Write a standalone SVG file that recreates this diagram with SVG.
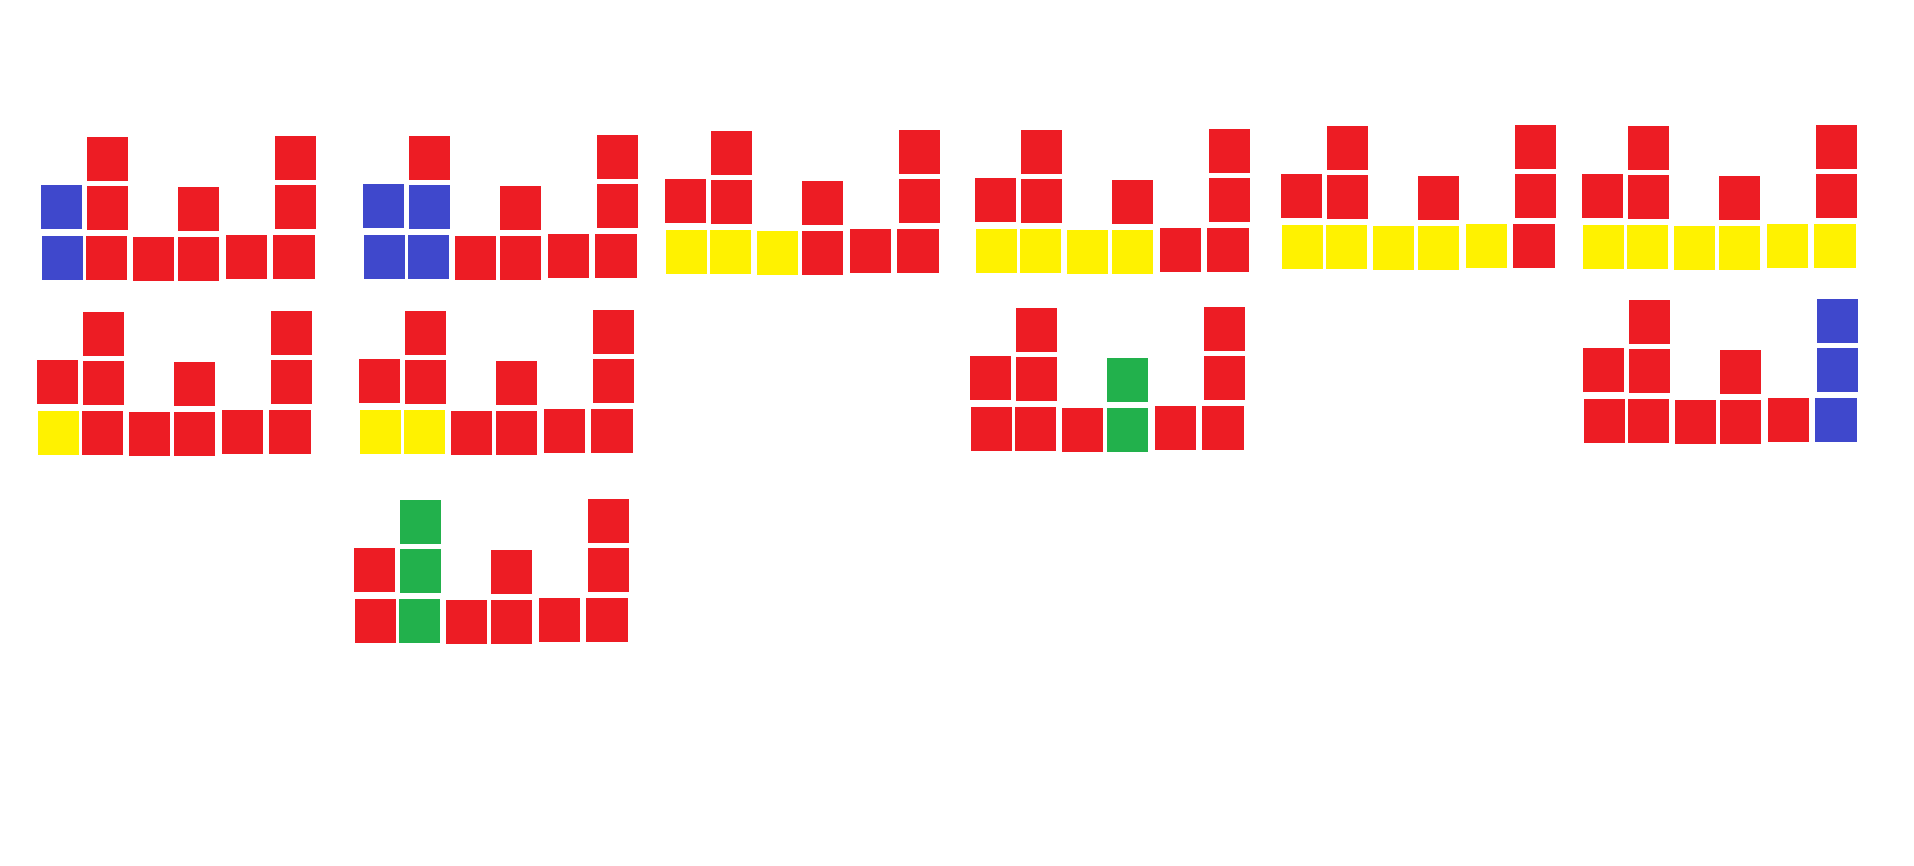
<svg xmlns="http://www.w3.org/2000/svg" width="1914" height="866" viewBox="0 0 1914 866">
<style>
rect{stroke:none}
.r{fill:#ED1C24}.b{fill:#3F48CC}.y{fill:#FFF200}.g{fill:#22B14C}
</style>
<rect x="0" y="0" width="1914" height="866" fill="#FFFFFF"/>
<g id="node-1" transform="translate(0,0)">
<rect class="b" x="41" y="185" width="41" height="44"/><rect class="b" x="42" y="236" width="41" height="44"/>
<rect class="r" x="87" y="137" width="41" height="44"/><rect class="r" x="87" y="186" width="41" height="44"/><rect class="r" x="86" y="236" width="41" height="44"/>
<rect class="r" x="133" y="237" width="41" height="44"/>
<rect class="r" x="178" y="187" width="41" height="44"/><rect class="r" x="178" y="237" width="41" height="44"/>
<rect class="r" x="226" y="235" width="41" height="44"/>
<rect class="r" x="275" y="136" width="41" height="44"/><rect class="r" x="275" y="185" width="41" height="44"/><rect class="r" x="273" y="235" width="42" height="44"/>
</g>
<g id="node-2" transform="translate(322,-1)">
<rect class="b" x="41" y="185" width="41" height="44"/><rect class="b" x="42" y="236" width="41" height="44"/>
<rect class="r" x="87" y="137" width="41" height="44"/><rect class="b" x="87" y="186" width="41" height="44"/><rect class="b" x="86" y="236" width="41" height="44"/>
<rect class="r" x="133" y="237" width="41" height="44"/>
<rect class="r" x="178" y="187" width="41" height="44"/><rect class="r" x="178" y="237" width="41" height="44"/>
<rect class="r" x="226" y="235" width="41" height="44"/>
<rect class="r" x="275" y="136" width="41" height="44"/><rect class="r" x="275" y="185" width="41" height="44"/><rect class="r" x="273" y="235" width="42" height="44"/>
</g>
<g id="node-3" transform="translate(624,-6)">
<rect class="r" x="41" y="185" width="41" height="44"/><rect class="y" x="42" y="236" width="41" height="44"/>
<rect class="r" x="87" y="137" width="41" height="44"/><rect class="r" x="87" y="186" width="41" height="44"/><rect class="y" x="86" y="236" width="41" height="44"/>
<rect class="y" x="133" y="237" width="41" height="44"/>
<rect class="r" x="178" y="187" width="41" height="44"/><rect class="r" x="178" y="237" width="41" height="44"/>
<rect class="r" x="226" y="235" width="41" height="44"/>
<rect class="r" x="275" y="136" width="41" height="44"/><rect class="r" x="275" y="185" width="41" height="44"/><rect class="r" x="273" y="235" width="42" height="44"/>
</g>
<g id="node-4" transform="translate(934,-7)">
<rect class="r" x="41" y="185" width="41" height="44"/><rect class="y" x="42" y="236" width="41" height="44"/>
<rect class="r" x="87" y="137" width="41" height="44"/><rect class="r" x="87" y="186" width="41" height="44"/><rect class="y" x="86" y="236" width="41" height="44"/>
<rect class="y" x="133" y="237" width="41" height="44"/>
<rect class="r" x="178" y="187" width="41" height="44"/><rect class="y" x="178" y="237" width="41" height="44"/>
<rect class="r" x="226" y="235" width="41" height="44"/>
<rect class="r" x="275" y="136" width="41" height="44"/><rect class="r" x="275" y="185" width="41" height="44"/><rect class="r" x="273" y="235" width="42" height="44"/>
</g>
<g id="node-5" transform="translate(1240,-11)">
<rect class="r" x="41" y="185" width="41" height="44"/><rect class="y" x="42" y="236" width="41" height="44"/>
<rect class="r" x="87" y="137" width="41" height="44"/><rect class="r" x="87" y="186" width="41" height="44"/><rect class="y" x="86" y="236" width="41" height="44"/>
<rect class="y" x="133" y="237" width="41" height="44"/>
<rect class="r" x="178" y="187" width="41" height="44"/><rect class="y" x="178" y="237" width="41" height="44"/>
<rect class="y" x="226" y="235" width="41" height="44"/>
<rect class="r" x="275" y="136" width="41" height="44"/><rect class="r" x="275" y="185" width="41" height="44"/><rect class="r" x="273" y="235" width="42" height="44"/>
</g>
<g id="node-6" transform="translate(1541,-11)">
<rect class="r" x="41" y="185" width="41" height="44"/><rect class="y" x="42" y="236" width="41" height="44"/>
<rect class="r" x="87" y="137" width="41" height="44"/><rect class="r" x="87" y="186" width="41" height="44"/><rect class="y" x="86" y="236" width="41" height="44"/>
<rect class="y" x="133" y="237" width="41" height="44"/>
<rect class="r" x="178" y="187" width="41" height="44"/><rect class="y" x="178" y="237" width="41" height="44"/>
<rect class="y" x="226" y="235" width="41" height="44"/>
<rect class="r" x="275" y="136" width="41" height="44"/><rect class="r" x="275" y="185" width="41" height="44"/><rect class="y" x="273" y="235" width="42" height="44"/>
</g>
<g id="node-7" transform="translate(-4,175)">
<rect class="r" x="41" y="185" width="41" height="44"/><rect class="y" x="42" y="236" width="41" height="44"/>
<rect class="r" x="87" y="137" width="41" height="44"/><rect class="r" x="87" y="186" width="41" height="44"/><rect class="r" x="86" y="236" width="41" height="44"/>
<rect class="r" x="133" y="237" width="41" height="44"/>
<rect class="r" x="178" y="187" width="41" height="44"/><rect class="r" x="178" y="237" width="41" height="44"/>
<rect class="r" x="226" y="235" width="41" height="44"/>
<rect class="r" x="275" y="136" width="41" height="44"/><rect class="r" x="275" y="185" width="41" height="44"/><rect class="r" x="273" y="235" width="42" height="44"/>
</g>
<g id="node-8" transform="translate(318,174)">
<rect class="r" x="41" y="185" width="41" height="44"/><rect class="y" x="42" y="236" width="41" height="44"/>
<rect class="r" x="87" y="137" width="41" height="44"/><rect class="r" x="87" y="186" width="41" height="44"/><rect class="y" x="86" y="236" width="41" height="44"/>
<rect class="r" x="133" y="237" width="41" height="44"/>
<rect class="r" x="178" y="187" width="41" height="44"/><rect class="r" x="178" y="237" width="41" height="44"/>
<rect class="r" x="226" y="235" width="41" height="44"/>
<rect class="r" x="275" y="136" width="41" height="44"/><rect class="r" x="275" y="185" width="41" height="44"/><rect class="r" x="273" y="235" width="42" height="44"/>
</g>
<g id="node-9" transform="translate(929,171)">
<rect class="r" x="41" y="185" width="41" height="44"/><rect class="r" x="42" y="236" width="41" height="44"/>
<rect class="r" x="87" y="137" width="41" height="44"/><rect class="r" x="87" y="186" width="41" height="44"/><rect class="r" x="86" y="236" width="41" height="44"/>
<rect class="r" x="133" y="237" width="41" height="44"/>
<rect class="g" x="178" y="187" width="41" height="44"/><rect class="g" x="178" y="237" width="41" height="44"/>
<rect class="r" x="226" y="235" width="41" height="44"/>
<rect class="r" x="275" y="136" width="41" height="44"/><rect class="r" x="275" y="185" width="41" height="44"/><rect class="r" x="273" y="235" width="42" height="44"/>
</g>
<g id="node-10" transform="translate(1542,163)">
<rect class="r" x="41" y="185" width="41" height="44"/><rect class="r" x="42" y="236" width="41" height="44"/>
<rect class="r" x="87" y="137" width="41" height="44"/><rect class="r" x="87" y="186" width="41" height="44"/><rect class="r" x="86" y="236" width="41" height="44"/>
<rect class="r" x="133" y="237" width="41" height="44"/>
<rect class="r" x="178" y="187" width="41" height="44"/><rect class="r" x="178" y="237" width="41" height="44"/>
<rect class="r" x="226" y="235" width="41" height="44"/>
<rect class="b" x="275" y="136" width="41" height="44"/><rect class="b" x="275" y="185" width="41" height="44"/><rect class="b" x="273" y="235" width="42" height="44"/>
</g>
<g id="node-11" transform="translate(313,363)">
<rect class="r" x="41" y="185" width="41" height="44"/><rect class="r" x="42" y="236" width="41" height="44"/>
<rect class="g" x="87" y="137" width="41" height="44"/><rect class="g" x="87" y="186" width="41" height="44"/><rect class="g" x="86" y="236" width="41" height="44"/>
<rect class="r" x="133" y="237" width="41" height="44"/>
<rect class="r" x="178" y="187" width="41" height="44"/><rect class="r" x="178" y="237" width="41" height="44"/>
<rect class="r" x="226" y="235" width="41" height="44"/>
<rect class="r" x="275" y="136" width="41" height="44"/><rect class="r" x="275" y="185" width="41" height="44"/><rect class="r" x="273" y="235" width="42" height="44"/>
</g>
<g id="connectors"/>
</svg>
